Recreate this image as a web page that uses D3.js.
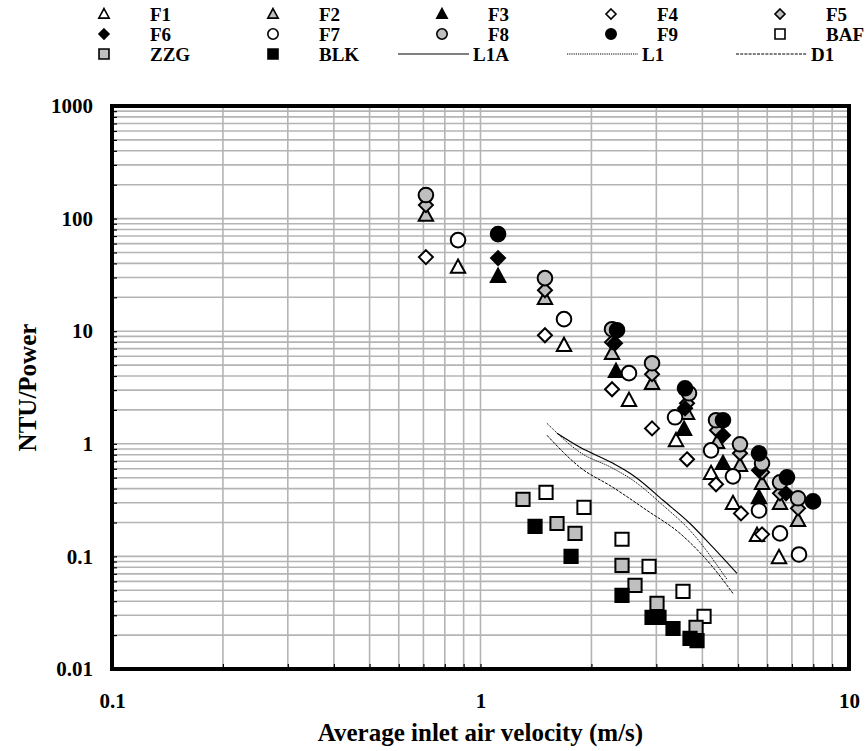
<!DOCTYPE html>
<html>
<head>
<meta charset="utf-8">
<script src="https://cdn.jsdelivr.net/npm/d3@7"></script>
<style>
  body { margin: 0; background: #fff; }
  svg { display: block; }
  text { font-family: "Liberation Serif", "Times New Roman", serif; font-weight: bold; fill: #000; }
</style>
</head>
<body>
<svg id="chart" width="867" height="751"></svg>
<script>
// Measured points: [average inlet air velocity (m/s), NTU/Power]
const F1 = [[0.869, 37.1], [1.685, 7.5], [2.529, 2.44], [3.393, 1.07], [4.223, 0.547], [4.843, 0.296], [5.628, 0.154], [6.457, 0.098]];
const F2 = [[0.711, 107.4], [1.496, 19.6], [2.275, 6.37], [2.921, 3.45], [3.635, 1.87], [4.384, 1.03], [5.060, 0.644], [5.808, 0.446], [6.498, 0.296], [7.272, 0.209]];
const F3 = [[1.116, 30.8], [2.332, 4.41], [3.567, 1.35], [4.550, 0.671], [5.699, 0.334]];
const F4 = [[0.711, 45.5], [1.496, 9.2], [2.275, 3.05], [2.921, 1.37], [3.635, 0.728], [4.357, 0.437], [5.092, 0.241], [5.808, 0.157]];
const F5 = [[0.711, 131.8], [1.496, 23.1], [2.275, 7.99], [2.921, 4.15], [3.635, 2.29], [4.384, 1.32], [5.060, 0.823], [5.808, 0.558], [6.498, 0.363], [7.272, 0.267]];
const F6 = [[1.116, 44.6], [2.317, 7.82], [3.589, 2.07], [4.550, 1.19], [5.699, 0.581], [6.745, 0.363]];
const F7 = [[0.869, 64.4], [1.685, 12.8], [2.529, 4.24], [3.372, 1.72], [4.223, 0.875], [4.843, 0.514], [5.699, 0.256], [6.498, 0.160], [7.317, 0.104]];
const F8 = [[0.711, 161.8], [1.496, 29.6], [2.275, 10.42], [2.921, 5.20], [3.680, 2.81], [4.357, 1.62], [5.060, 0.990], [5.808, 0.671], [6.498, 0.455], [7.272, 0.328]];
const F9 = [[1.116, 72.8], [2.347, 10.2], [3.589, 3.11], [4.550, 1.62], [5.699, 0.823], [6.788, 0.504], [7.987, 0.308]];
const BAF = [[1.506, 0.371], [1.909, 0.273], [2.421, 0.142], [2.867, 0.0815], [3.544, 0.0489], [4.042, 0.0293]];
const ZZG = [[1.304, 0.321], [1.613, 0.196], [1.805, 0.160], [2.421, 0.0832], [2.626, 0.0552], [3.013, 0.0382], [3.845, 0.0234]];
const BLK = [[1.406, 0.185], [1.761, 0.100], [2.421, 0.0450], [2.921, 0.0287], [3.051, 0.0287], [3.330, 0.0229], [3.703, 0.0187], [3.869, 0.0179]];

// Correlation curves
const L1A = [[1.613, 1.24], [1.862, 0.93], [2.289, 0.671], [2.545, 0.547], [2.659, 0.494], [3.129, 0.315], [3.703, 0.196], [4.276, 0.120], [4.966, 0.0706]];
const L1 = [[1.515, 1.52], [1.862, 0.840], [2.289, 0.605], [2.593, 0.474], [3.129, 0.284], [3.703, 0.170], [4.666, 0.0625]];
const D1 = [[1.515, 1.19], [1.862, 0.618], [2.289, 0.410], [2.830, 0.256], [3.478, 0.160], [4.276, 0.0798], [4.843, 0.0469]];

const xTickValues = [0.1, 1, 10];
const xTickLabels = ["0.1", "1", "10"];
const yTickValues = [0.01, 0.1, 1, 10, 100, 1000];
const yTickLabels = ["0.01", "0.1", "1", "10", "100", "1000"];

const xTitle = "Average inlet air velocity (m/s)";
const yTitle = "NTU/Power";

// Marker series: name, data, shape, fill
const GRAY = "#bfbfbf";
const markerSeries = [
  { name: "F1", data: F1, shape: "triangle", fill: "#fff" },
  { name: "F2", data: F2, shape: "triangle", fill: GRAY },
  { name: "F3", data: F3, shape: "triangle", fill: "#000" },
  { name: "F4", data: F4, shape: "diamond", fill: "#fff" },
  { name: "F5", data: F5, shape: "diamond", fill: GRAY },
  { name: "F6", data: F6, shape: "diamond", fill: "#000" },
  { name: "F7", data: F7, shape: "circle", fill: "#fff" },
  { name: "F8", data: F8, shape: "circle", fill: GRAY },
  { name: "F9", data: F9, shape: "circle", fill: "#000" },
  { name: "BAF", data: BAF, shape: "square", fill: "#fff" },
  { name: "ZZG", data: ZZG, shape: "square", fill: GRAY },
  { name: "BLK", data: BLK, shape: "square", fill: "#000" }
];
const lineSeries = [
  { name: "L1A", data: L1A, dash: null, width: 1.1 },
  { name: "L1", data: L1, dash: "1.2,1", width: 1 },
  { name: "D1", data: D1, dash: "3,1.2", width: 1 }
];

const svg = d3.select("#chart");
const plot = { left: 112, right: 849, top: 106, bottom: 669 };

const x = d3.scaleLog().domain([0.1, 10]).range([plot.left, plot.right]);
const y = d3.scaleLog().domain([0.01, 1000]).range([plot.bottom, plot.top]);

// Gridlines at every 1..9 step of each decade
const grid = svg.append("g");
grid.selectAll("line.gx").data(x.ticks()).join("line")
  .attr("x1", d => x(d)).attr("x2", d => x(d))
  .attr("y1", plot.top).attr("y2", plot.bottom)
  .attr("stroke", "#b4b4b4").attr("stroke-width", 1.6);
grid.selectAll("line.gy").data(y.ticks()).join("line")
  .attr("x1", plot.left).attr("x2", plot.right)
  .attr("y1", d => y(d)).attr("y2", d => y(d))
  .attr("stroke", "#b4b4b4").attr("stroke-width", 1.6);

// Axes: short inward ticks, labels only on powers of ten
const isDecade = v => Math.abs(Math.log10(v) - Math.round(Math.log10(v))) < 1e-9;
const xAxis = d3.axisBottom(x).tickValues(x.ticks()).tickSize(-5).tickPadding(24)
  .tickFormat(v => isDecade(v) ? xTickLabels[xTickValues.findIndex(t => Math.abs(t - v) < 1e-9)] : "");
const yAxis = d3.axisLeft(y).tickValues(y.ticks()).tickSize(-5).tickPadding(19)
  .tickFormat(v => isDecade(v) ? yTickLabels[yTickValues.findIndex(t => Math.abs(t - v) / t < 1e-9)] : "");

const gx = svg.append("g").attr("transform", `translate(0,${plot.bottom})`).call(xAxis);
const gy = svg.append("g").attr("transform", `translate(${plot.left},0)`).call(yAxis);
[gx, gy].forEach(g => {
  g.select(".domain").remove();
  g.selectAll(".tick line").attr("stroke", "#000").attr("stroke-width", 1.2);
  g.selectAll(".tick text").attr("font-size", 21).attr("font-family", "Liberation Serif, serif").attr("font-weight", "bold").attr("fill", "#000");
});

// Marker shapes
function shapePath(shape, s) {
  if (shape === "triangle") return `M0,${-s * 1.05}L${s},${s * 0.8}L${-s},${s * 0.8}Z`;
  if (shape === "diamond") return `M0,${-s}L${s},0L0,${s}L${-s},0Z`;
  if (shape === "square") return `M${-s},${-s}H${s}V${s}H${-s}Z`;
  return d3.path().toString();
}
function drawMarker(g, shape, fill, cx, cy, s, sw) {
  if (shape === "circle") {
    g.append("circle").attr("cx", cx).attr("cy", cy).attr("r", s)
      .attr("fill", fill).attr("stroke", "#000").attr("stroke-width", sw);
  } else {
    g.append("path").attr("d", shapePath(shape, s)).attr("transform", `translate(${cx},${cy})`)
      .attr("fill", fill).attr("stroke", "#000").attr("stroke-width", sw);
  }
}

// Correlation curves
const lineGen = d3.line().x(d => x(d[0])).y(d => y(d[1])).curve(d3.curveMonotoneX);
const curves = svg.append("g");
lineSeries.forEach(s => {
  curves.append("path").datum(s.data).attr("d", lineGen)
    .attr("fill", "none").attr("stroke", "#000").attr("stroke-width", s.width)
    .attr("stroke-dasharray", s.dash);
});

// Markers
const markerSize = { triangle: 7.2, diamond: 7, circle: 7.3, square: 6.6 };
const marks = svg.append("g");
markerSeries.forEach(s => {
  const g = marks.append("g").attr("class", "series-" + s.name);
  s.data.forEach(d => drawMarker(g, s.shape, s.fill, x(d[0]), y(d[1]), markerSize[s.shape], 2));
});

// Plot frame
svg.append("rect").attr("x", plot.left).attr("y", plot.top)
  .attr("width", plot.right - plot.left).attr("height", plot.bottom - plot.top)
  .attr("fill", "none").attr("stroke", "#000").attr("stroke-width", 4);

// Axis titles
svg.append("text").attr("x", (plot.left + plot.right) / 2).attr("y", 741)
  .attr("text-anchor", "middle").attr("font-size", 25).text(xTitle);
svg.append("text").attr("transform", `translate(36,${(plot.top + plot.bottom) / 2}) rotate(-90)`)
  .attr("text-anchor", "middle").attr("font-size", 25).text(yTitle);

// Legend: 5 columns x 3 rows
const legendItems = markerSeries.map(s => ({ kind: "marker", ...s }))
  .concat(lineSeries.map(s => ({ kind: "line", ...s })));
const legend = svg.append("g");
const legendSize = { triangle: 5.2, diamond: 5, circle: 5.2, square: 5 };
legendItems.forEach((item, i) => {
  const col = i % 5, row = Math.floor(i / 5);
  const sx = 104 + 169 * col, cy = 14 + 20 * row;
  if (item.kind === "marker") {
    drawMarker(legend, item.shape, item.fill, sx, cy, legendSize[item.shape], 1.6);
    legend.append("text").attr("x", sx + 46).attr("y", cy + 6.5).attr("font-size", 19).text(item.name);
  } else {
    legend.append("line").attr("x1", sx - 44).attr("x2", sx + 27).attr("y1", cy).attr("y2", cy)
      .attr("stroke", "#000").attr("stroke-width", item.width).attr("stroke-dasharray", item.dash);
    legend.append("text").attr("x", sx + 31).attr("y", cy + 6.5).attr("font-size", 19).text(item.name);
  }
});
</script>
</body>
</html>
